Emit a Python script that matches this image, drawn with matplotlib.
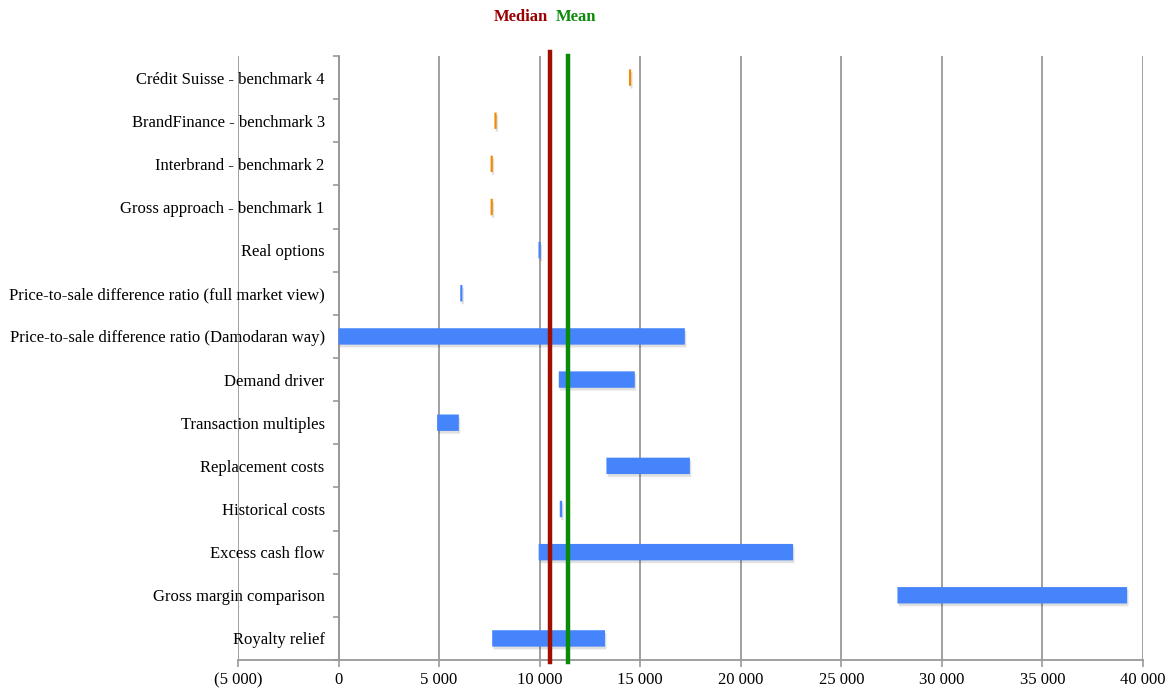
import numpy as np
import matplotlib.pyplot as plt
import matplotlib.patheffects as pe
from matplotlib.ticker import FuncFormatter, FixedLocator

plt.rcParams['font.family'] = ['Liberation Serif', 'DejaVu Serif']

# valuation methods, bottom to top
methods = ['Royalty relief', 'Gross margin comparison', 'Excess cash flow',
           'Historical costs', 'Replacement costs', 'Transaction multiples',
           'Demand driver', 'Price-to-sale difference ratio (Damodaran way)',
           'Price-to-sale difference ratio (full market view)', 'Real options',
           'Gross approach - benchmark 1', 'Interbrand - benchmark 2',
           'BrandFinance - benchmark 3', 'Crédit Suisse - benchmark 4']
low = [7640, 27790, 9950, 11000, 13320, 4900, 10950, 0,
       6050, 9940, 7560, 7560, 7750, 14440]
high = [13250, 39210, 22600, 11120, 17470, 5980, 14730, 17220,
        6160, 10050, 7670, 7670, 7860, 14550]
is_benchmark = [False] * 10 + [True] * 4

median_value = 10510
mean_value = 11430

fig = plt.figure(figsize=(11.73, 6.93), dpi=100)
ax = fig.add_axes([238 / 1173, 1 - 660 / 693, (1143 - 238) / 1173, (660 - 56) / 693])

y = np.arange(len(methods))
colors = ['#F08A00' if b else '#4584FA' for b in is_benchmark]
bars = ax.barh(y, np.array(high) - np.array(low), left=low, height=0.38,
               color=colors, linewidth=0, zorder=3)
for b in bars:
    b.set_snap(False)
    b.set_path_effects([pe.SimplePatchShadow(offset=(1, -2), shadow_rgbFace='k', alpha=0.12),
                        pe.Normal()])

ax.axvline(median_value, ymin=-0.004, ymax=1.007, color='#A00E00', lw=3.2,
           zorder=4, clip_on=False)
ax.axvline(mean_value, ymin=-0.004, ymax=1.0, color='#0A8A0A', lw=3.2,
           zorder=4, clip_on=False)

ax.set_xlim(-5000, 40000)
ax.set_ylim(-0.5, len(methods) - 0.5)
ax.set_xticks(np.arange(-5000, 40001, 5000))


def fmt(v, pos):
    s = '{:,.0f}'.format(abs(v)).replace(',', ' ')
    return '(' + s + ')' if v < 0 else s


ax.xaxis.set_major_formatter(FuncFormatter(fmt))
ax.grid(axis='x', color='#999999', lw=1.3, zorder=0)

ax.set_yticks(y)
ax.set_yticklabels(methods)
ax.yaxis.set_minor_locator(FixedLocator(np.arange(-0.5, len(methods), 1.0)))
ax.tick_params(axis='y', which='major', length=0, pad=10, labelsize=12)
ax.tick_params(axis='y', which='minor', length=4, color='#999999', width=1.2)
ax.tick_params(axis='x', length=5, color='#999999', width=1.2, labelsize=12, pad=4)

for s in ['top', 'right']:
    ax.spines[s].set_visible(False)
ax.spines['left'].set_position(('data', 0))
ax.spines['left'].set_color('#999999')
ax.spines['left'].set_linewidth(1.3)
ax.spines['bottom'].set_color('#999999')
ax.spines['bottom'].set_linewidth(1.3)

fig.text(548 / 1173, 1 - 17 / 693, 'Median', color='#990000', fontweight='bold',
         fontsize=12, ha='right', va='center')
fig.text(556 / 1173, 1 - 17 / 693, 'Mean', color='#0A8A0A', fontweight='bold',
         fontsize=12, ha='left', va='center')

fig.savefig('out.png', dpi=100)
